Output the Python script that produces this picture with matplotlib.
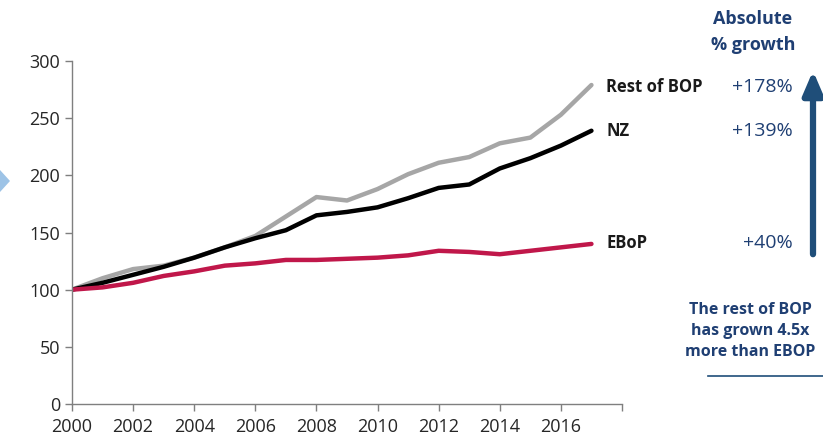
import numpy as np
import matplotlib.pyplot as plt
from matplotlib.patches import Polygon

plt.rcParams['font.family'] = ['Open Sans', 'DejaVu Sans']

# Years and index values (2000 = 100)
years = np.arange(2000, 2018)
rest_bop = [100, 110, 118, 121, 128, 137, 147, 164, 181, 178, 188, 201, 211, 216, 228, 233, 253, 279]
nz = [100, 106, 113, 120, 128, 137, 145, 152, 165, 168, 172, 180, 189, 192, 206, 215, 226, 239]
ebop = [100, 102, 106, 112, 116, 121, 123, 126, 126, 127, 128, 130, 134, 133, 131, 134, 137, 140]

series_names = ["Rest of BOP", "NZ", "EBoP"]
growth_labels = ["+178%", "+139%", "+40%"]

navy = '#1F3F73'
axis_grey = '#7F7F7F'

fig = plt.figure(figsize=(8.23, 4.41), dpi=100)
ax = fig.add_axes([72 / 823, 1 - 404 / 441, 550 / 823, 343 / 441])

ax.plot(years, rest_bop, color='#A6A6A6', lw=3.2, solid_capstyle='round')
ax.plot(years, nz, color='black', lw=3.2, solid_capstyle='round')
ax.plot(years, ebop, color='#C0174A', lw=3.2, solid_capstyle='round')

ax.set_xlim(2000, 2018)
ax.set_ylim(0, 300)
ax.set_xticks(np.arange(2000, 2019, 2))
ax.set_xticklabels([str(y) for y in range(2000, 2017, 2)] + [''])
ax.set_yticks(np.arange(0, 301, 50))

for s in ['top', 'right']:
    ax.spines[s].set_visible(False)
for s in ['left', 'bottom']:
    ax.spines[s].set_color(axis_grey)
    ax.spines[s].set_linewidth(1.0)
ax.tick_params(colors=axis_grey, labelcolor='#262626', labelsize=13, length=5, width=1.0)
ax.tick_params(axis='x', pad=5)

# series labels and growth percentages
label_y = [87, 131, 243]
for name, g, py in zip(series_names, growth_labels, label_y):
    fig.text(606 / 823, 1 - py / 441, name, fontsize=12, fontweight='bold',
             color='#1A1A1A', ha='left', va='center')
    fig.text(793 / 823, 1 - py / 441, g, fontsize=14, color=navy,
             ha='right', va='center')

fig.text(753 / 823, 1 - 32 / 441, "Absolute\n% growth", fontsize=13, fontweight='bold',
         color=navy, ha='center', va='center', linespacing=1.5)

fig.text(750 / 823, 1 - 331 / 441, "The rest of BOP\nhas grown 4.5x\nmore than EBOP",
         fontsize=11.5, fontweight='bold', color=navy, ha='center', va='center',
         linespacing=1.45)

# overlay in pixel coordinates for the arrow and rule
ax_ov = fig.add_axes([0, 0, 1, 1], facecolor='none')
ax_ov.set_xlim(0, 823)
ax_ov.set_ylim(441, 0)
ax_ov.axis('off')
ax_ov.annotate('', xy=(813, 68), xytext=(813, 257),
               arrowprops=dict(arrowstyle='-|>,head_length=1.4,head_width=0.6',
                               color='#1F4E79', lw=4.5))
ax_ov.plot([708, 823], [376, 376], color='#1F4E79', lw=1.2)

# light blue chevron cut off at the left edge
ax_ov.add_patch(Polygon([[0, 170], [10, 181], [0, 192]], closed=True,
                        color='#9DC3E6', lw=0))

fig.savefig('out.png', dpi=100)
